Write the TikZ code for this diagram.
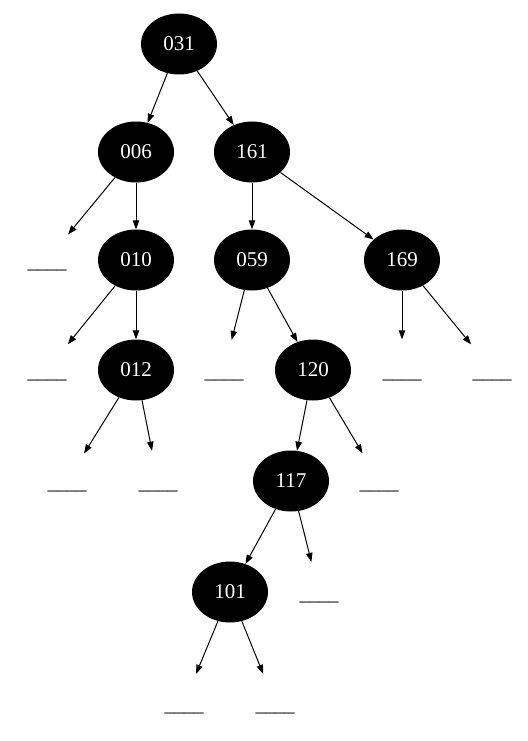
\documentclass[tikz,border=0pt]{standalone}
\usepackage{fontspec}
\setmainfont{Liberation Serif}
\usetikzlibrary{arrows.meta,shapes.geometric}

\begin{document}
\begin{tikzpicture}[
  x=1pt, y=-1pt,
  >={Triangle[length=9pt, width=6.5pt]},
  key/.style={ellipse, fill=black, text=white, inner sep=0pt,
              minimum width=76pt, minimum height=61pt,
              font=\fontsize{21}{25}\selectfont},
  nil/.style={ellipse, inner sep=0pt, minimum width=76pt, minimum height=61pt,
              text height=0pt, text depth=0pt,
              font=\fontsize{19.5}{23}\selectfont},
  arc/.style={->, line width=1pt, black},
]
\useasboundingbox (0,0) rectangle (527,741);

% keys
\node[key] (n031) at (179,44)  {031};
\node[key] (n006) at (136,152) {006};
\node[key] (n161) at (252,152) {161};
\node[key] (n010) at (136,260) {010};
\node[key] (n059) at (252,260) {059};
\node[key] (n169) at (402,260) {169};
\node[key] (n012) at (136,370) {012};
\node[key] (n120) at (313,370) {120};
\node[key] (n117) at (291,481) {117};
\node[key] (n101) at (230,592) {101};

% empty subtrees
\newcommand{\nilbar}{\raisebox{-8.5pt}{\_\_\_\_}}
\node[nil] (l1)  at (47,260)  {\nilbar};
\node[nil] (l2)  at (47,370)  {\nilbar};
\node[nil] (l3)  at (67,481)  {\nilbar};
\node[nil] (l4)  at (158,481) {\nilbar};
\node[nil] (l5)  at (224,370) {\nilbar};
\node[nil] (l6)  at (402,370) {\nilbar};
\node[nil] (l7)  at (492,370) {\nilbar};
\node[nil] (l8)  at (379,481) {\nilbar};
\node[nil] (l9)  at (319,592) {\nilbar};
\node[nil] (l10) at (184,703) {\nilbar};
\node[nil] (l11) at (275,703) {\nilbar};

\draw[arc] (n031) -- (n006);
\draw[arc] (n031) -- (n161);
\draw[arc] (n006) -- (l1);
\draw[arc] (n006) -- (n010);
\draw[arc] (n161) -- (n059);
\draw[arc] (n161) -- (n169);
\draw[arc] (n010) -- (l2);
\draw[arc] (n010) -- (n012);
\draw[arc] (n059) -- (l5);
\draw[arc] (n059) -- (n120);
\draw[arc] (n169) -- (l6);
\draw[arc] (n169) -- (l7);
\draw[arc] (n012) -- (l3);
\draw[arc] (n012) -- (l4);
\draw[arc] (n120) -- (n117);
\draw[arc] (n120) -- (l8);
\draw[arc] (n117) -- (n101);
\draw[arc] (n117) -- (l9);
\draw[arc] (n101) -- (l10);
\draw[arc] (n101) -- (l11);
\end{tikzpicture}
\end{document}
